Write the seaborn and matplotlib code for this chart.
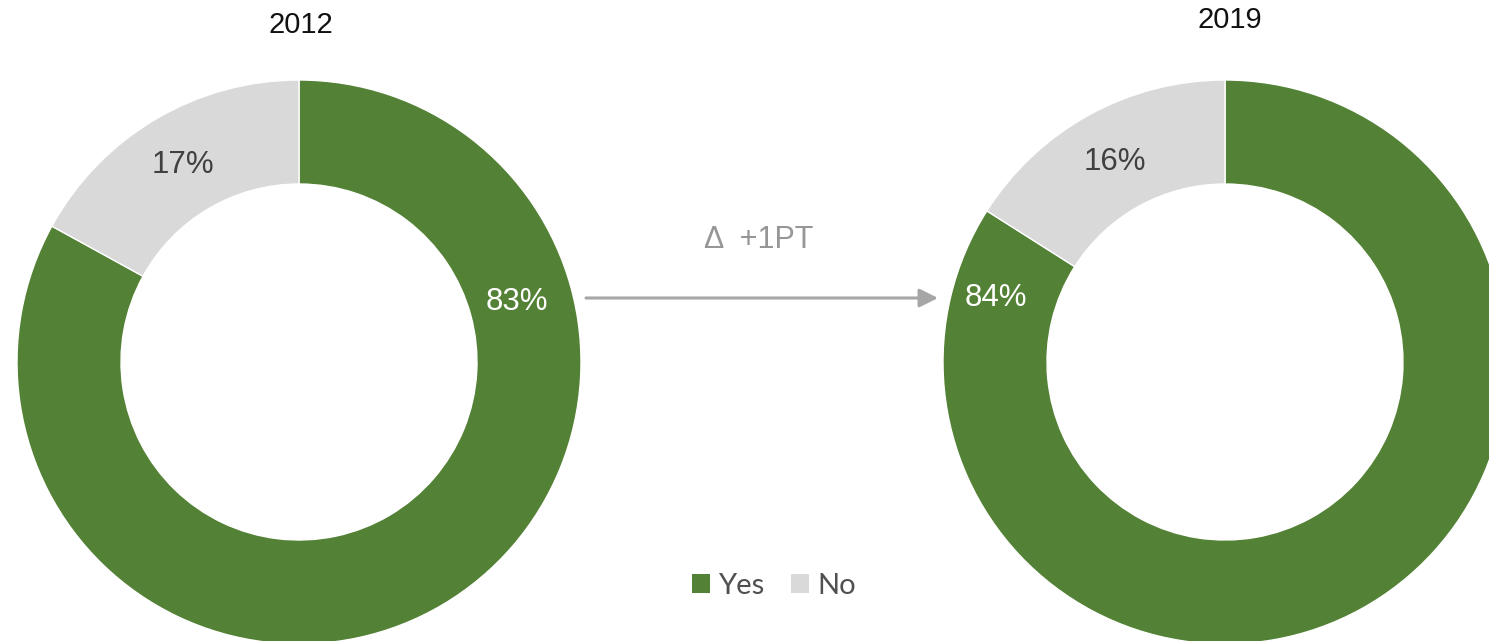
import matplotlib
matplotlib.use("Agg")
import matplotlib.pyplot as plt
from matplotlib.patches import Patch
import seaborn as sns

# ---- data ----
years = ["2012", "2019"]
categories = ["Yes", "No"]
values_2012 = [83, 17]
values_2019 = [84, 16]
delta_label = "Δ  +1PT"

GREEN = "#538135"
GRAY = "#d9d9d9"

sns.set_theme(style="white")
plt.rcParams["font.family"] = ["Liberation Sans", "DejaVu Sans"]

W, H = 1489, 641
fig = plt.figure(figsize=(W / 100, H / 100), dpi=100)
ax = fig.add_axes([0, 0, 1, 1])

R_OUT, WIDTH = 282, 104
centers = [(299, H - 362), (1225, H - 362)]
series = [values_2012, values_2019]

for (cx, cy), vals in zip(centers, series):
    ax.pie(vals, colors=[GREEN, GRAY], startangle=90, counterclock=False,
           radius=R_OUT, center=(cx, cy),
           wedgeprops=dict(width=WIDTH, edgecolor="white", linewidth=1))

ax.set_xlim(0, W)
ax.set_ylim(0, H)
ax.set_aspect("auto")
ax.axis("off")

# titles
ax.text(301, H - 25, years[0], ha="center", va="center", fontsize=21, color="#111111")
ax.text(1230, H - 20, years[1], ha="center", va="center", fontsize=21, color="#111111")

# percentage labels
ax.text(517, H - 302, f"{values_2012[0]}%", ha="center", va="center", fontsize=22.5, color="white")
ax.text(183, H - 165, f"{values_2012[1]}%", ha="center", va="center", fontsize=22.5, color="#404040")
ax.text(996, H - 298, f"{values_2019[0]}%", ha="center", va="center", fontsize=22.5, color="white")
ax.text(1115, H - 162, f"{values_2019[1]}%", ha="center", va="center", fontsize=22.5, color="#404040")

# delta arrow
ax.annotate("", xy=(938, H - 298), xytext=(586, H - 298),
            arrowprops=dict(arrowstyle="-|>", color="#a6a6a6", lw=2.2,
                            mutation_scale=28, shrinkA=0, shrinkB=0))
ax.text(759, H - 240, delta_label, ha="center", va="center", fontsize=22, color="#969696")

# legend
handles = [Patch(facecolor=GREEN, edgecolor="none"), Patch(facecolor=GRAY, edgecolor="none")]
leg = ax.legend(handles, categories, loc="center", bbox_to_anchor=(774 / W, 1 - 586 / H),
                bbox_transform=fig.transFigure, ncol=2, frameon=False,
                handlelength=0.62, handleheight=0.62, handletextpad=0.3, columnspacing=0.9,
                prop={"family": ["Lato", "Open Sans"], "size": 21})
for t in leg.get_texts():
    t.set_color("#505050")

fig.savefig("out.png", dpi=100)
